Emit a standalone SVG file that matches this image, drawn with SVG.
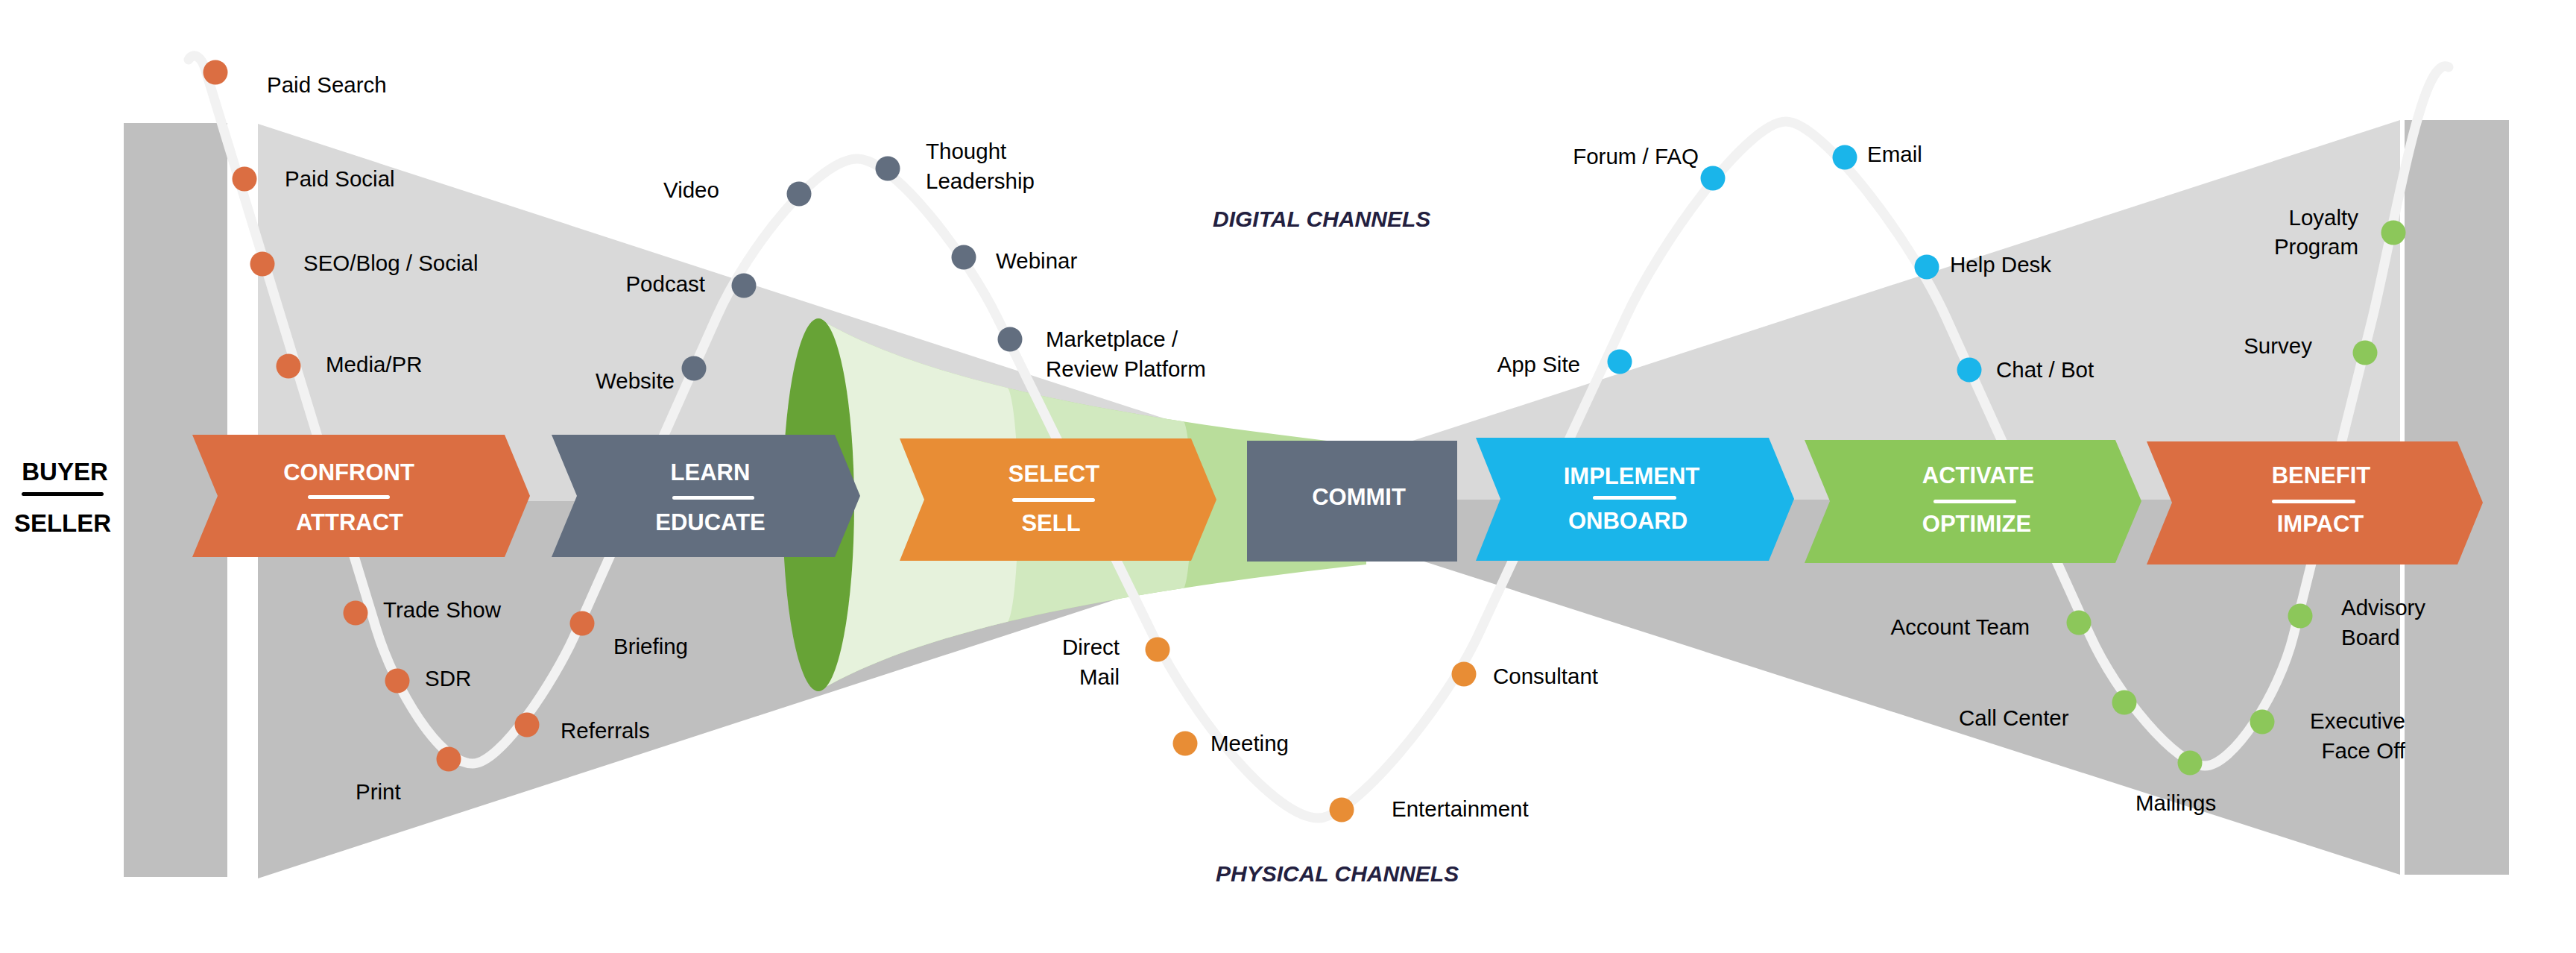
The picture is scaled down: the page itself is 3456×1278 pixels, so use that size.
<svg xmlns="http://www.w3.org/2000/svg" width="3456" height="1278" viewBox="0 0 3456 1278">
<defs>
<style>
.lbl{font-family:"Liberation Sans",Arial,sans-serif;font-size:29.5px;fill:#000}
.end{text-anchor:end}
.ph{font-family:"Liberation Sans",Arial,sans-serif;font-weight:bold;font-size:31px;fill:#fff;text-anchor:middle}
.bs{font-family:"Liberation Sans",Arial,sans-serif;font-weight:bold;font-size:33px;fill:#000;text-anchor:middle}
.ch{font-family:"Liberation Sans",Arial,sans-serif;font-weight:bold;font-style:italic;font-size:30px;fill:#23203f}
.bar{fill:#fff}
.light{fill:#d9d9d9}
.dark{fill:#bfbfbf}
.c1{fill:#db6e42}.c2{fill:#626e7f}.c3{fill:#e88d35}.c4{fill:#1ab5ea}.c5{fill:#8cc75a}
.dot{stroke:none}
.curve{fill:none;stroke:#f2f2f2;stroke-width:13;stroke-linecap:round;stroke-linejoin:round}
</style>
<clipPath id="coneClip"><path d="M1098,427 C1240,512 1500,560 1833,597 L1833,757 C1500,794 1240,842 1098,927 Z"/></clipPath>
</defs>
<rect width="3456" height="1278" fill="#fff"/>

<g id="background">
<rect class="dark" x="166" y="165" width="139" height="1011"/>
<rect class="dark" x="3226" y="161" width="140" height="1012"/>
<polygon class="light" points="346,166 1903,672 346,672"/>
<polygon class="dark" points="346,672 1903,672 346,1178"/>
<polygon class="light" points="3220,161 3220,670 1652,670"/>
<polygon class="dark" points="3220,670 3220,1173 1652,670"/>
</g>

<g id="funnel">
<g clip-path="url(#coneClip)">
<rect x="1090" y="400" width="760" height="560" fill="#b9dd9b"/>
<path d="M1000,380 L1586,380 L1586,563 A12,114 0 0 1 1586,791 L1586,980 L1000,980 Z" fill="#d1e9bf"/>
<path d="M1000,380 L1349,380 L1349,517 A17,160 0 0 1 1349,837 L1349,980 L1000,980 Z" fill="#e6f2dc"/>
</g>
<ellipse cx="1098" cy="677" rx="48" ry="250" fill="#67a336"/>
</g>

<g id="connectors">
<path class="curve" d="M253,80 C259,70 270,74 276,95 L505,844 C530,925 590,1024 634,1024 C672,1024 744,912 771,852 L961,426 C1006,326 1100,213 1150,213 C1200,213 1299,346 1338,426 L1547,852 C1601,962 1710,1097 1769,1097 C1815,1097 1936,952 1983,852 L2181,426 C2227,326 2345,163 2396,163 C2445,163 2566,326 2611,426 L2804,852 C2840,932 2920,1027 2958,1027 C2995,1027 3057,932 3077,852 L3183,426 C3206,330 3235,160 3262,108 C3270,92 3278,86 3285,90"/>
</g>

<g id="buyer-seller">
<text class="bs" x="87" y="644">BUYER</text>
<rect x="29" y="660" width="110" height="5" rx="2.5" fill="#000"/>
<text class="bs" x="84" y="713">SELLER</text>
</g>

<g id="confront">
<polygon class="c1" points="258,583 677,583 711,665 677,747 258,747 292,665"/>
<text class="ph" x="468" y="644">CONFRONT</text>
<rect class="bar" x="413" y="664" width="110" height="5" rx="2.5"/>
<text class="ph" x="469" y="711">ATTRACT</text>
</g>
<g id="learn">
<polygon class="c2" points="740,583 1120,583 1154,665 1120,747 740,747 774,665"/>
<text class="ph" x="953" y="644">LEARN</text>
<rect class="bar" x="902" y="665" width="110" height="5" rx="2.5"/>
<text class="ph" x="953" y="711">EDUCATE</text>
</g>
<g id="select">
<polygon class="c3" points="1207,588 1598,588 1632,670 1598,752 1207,752 1240,670"/>
<text class="ph" x="1414" y="646">SELECT</text>
<rect class="bar" x="1358" y="668" width="111" height="5" rx="2.5"/>
<text class="ph" x="1410" y="712">SELL</text>
</g>
<g id="commit">
<rect class="c2" x="1673" y="591" width="282" height="162"/>
<text class="ph" x="1823" y="677">COMMIT</text>
</g>
<g id="implement">
<polygon class="c4" points="1980,587 2373,587 2407,669 2373,752 1980,752 2013,669"/>
<text class="ph" x="2189" y="649">IMPLEMENT</text>
<rect class="bar" x="2137" y="665" width="112" height="5" rx="2.5"/>
<text class="ph" x="2184" y="709">ONBOARD</text>
</g>
<g id="activate">
<polygon class="c5" points="2421,590 2838,590 2873,672 2838,755 2421,755 2455,672"/>
<text class="ph" x="2654" y="648">ACTIVATE</text>
<rect class="bar" x="2594" y="670" width="111" height="5" rx="2.5"/>
<text class="ph" x="2652" y="713">OPTIMIZE</text>
</g>
<g id="benefit">
<polygon class="c1" points="2880,592 3297,592 3331,674 3297,757 2880,757 2914,674"/>
<text class="ph" x="3114" y="648">BENEFIT</text>
<rect class="bar" x="3048" y="670" width="112" height="5" rx="2.5"/>
<text class="ph" x="3113" y="713">IMPACT</text>
</g>

<g id="channel-titles">
<text class="ch" x="1627" y="304">DIGITAL CHANNELS</text>
<text class="ch" x="1631" y="1182">PHYSICAL CHANNELS</text>
</g>

<g id="ch-paid-search"><circle class="dot c1" cx="289" cy="97" r="16.5"/><text class="lbl" x="358" y="124">Paid Search</text></g>
<g id="ch-paid-social"><circle class="dot c1" cx="328" cy="240" r="16.5"/><text class="lbl" x="382" y="250">Paid Social</text></g>
<g id="ch-seo"><circle class="dot c1" cx="352" cy="354" r="16.5"/><text class="lbl" x="407" y="363">SEO/Blog / Social</text></g>
<g id="ch-media"><circle class="dot c1" cx="387" cy="491" r="16.5"/><text class="lbl" x="437" y="499">Media/PR</text></g>
<g id="ch-trade-show"><circle class="dot c1" cx="477" cy="822" r="16.5"/><text class="lbl" x="514" y="828">Trade Show</text></g>
<g id="ch-sdr"><circle class="dot c1" cx="533" cy="913" r="16.5"/><text class="lbl" x="570" y="920">SDR</text></g>
<g id="ch-print"><circle class="dot c1" cx="602" cy="1018" r="16.5"/><text class="lbl" x="477" y="1072">Print</text></g>
<g id="ch-referrals"><circle class="dot c1" cx="707" cy="972" r="16.5"/><text class="lbl" x="752" y="990">Referrals</text></g>
<g id="ch-briefing"><circle class="dot c1" cx="781" cy="836" r="16.5"/><text class="lbl" x="823" y="877">Briefing</text></g>

<g id="ch-website"><circle class="dot c2" cx="931" cy="494" r="16.5"/><text class="lbl end" x="905" y="521">Website</text></g>
<g id="ch-podcast"><circle class="dot c2" cx="998" cy="383" r="16.5"/><text class="lbl end" x="946" y="391">Podcast</text></g>
<g id="ch-video"><circle class="dot c2" cx="1072" cy="260" r="16.5"/><text class="lbl" x="890" y="265">Video</text></g>
<g id="ch-thought"><circle class="dot c2" cx="1191" cy="226" r="16.5"/><text class="lbl" x="1242" y="213">Thought</text><text class="lbl" x="1242" y="253">Leadership</text></g>
<g id="ch-webinar"><circle class="dot c2" cx="1293" cy="345" r="16.5"/><text class="lbl" x="1336" y="360">Webinar</text></g>
<g id="ch-marketplace"><circle class="dot c2" cx="1355" cy="455" r="16.5"/><text class="lbl" x="1403" y="465">Marketplace /</text><text class="lbl" x="1403" y="505">Review Platform</text></g>

<g id="ch-direct-mail"><circle class="dot c3" cx="1553" cy="871" r="16.5"/><text class="lbl end" x="1502" y="878">Direct</text><text class="lbl end" x="1502" y="918">Mail</text></g>
<g id="ch-meeting"><circle class="dot c3" cx="1590" cy="997" r="16.5"/><text class="lbl" x="1624" y="1007">Meeting</text></g>
<g id="ch-entertainment"><circle class="dot c3" cx="1800" cy="1086" r="16.5"/><text class="lbl" x="1867" y="1095">Entertainment</text></g>
<g id="ch-consultant"><circle class="dot c3" cx="1964" cy="904" r="16.5"/><text class="lbl" x="2003" y="917">Consultant</text></g>

<g id="ch-app-site"><circle class="dot c4" cx="2173" cy="485" r="16.5"/><text class="lbl end" x="2120" y="499">App Site</text></g>
<g id="ch-forum"><circle class="dot c4" cx="2298" cy="239" r="16.5"/><text class="lbl end" x="2279" y="220">Forum / FAQ</text></g>
<g id="ch-email"><circle class="dot c4" cx="2475" cy="211" r="16.5"/><text class="lbl" x="2505" y="217">Email</text></g>
<g id="ch-help-desk"><circle class="dot c4" cx="2585" cy="358" r="16.5"/><text class="lbl" x="2616" y="365">Help Desk</text></g>
<g id="ch-chat"><circle class="dot c4" cx="2642" cy="496" r="16.5"/><text class="lbl" x="2678" y="506">Chat / Bot</text></g>

<g id="ch-account-team"><circle class="dot c5" cx="2789" cy="835" r="16.5"/><text class="lbl end" x="2723" y="851">Account Team</text></g>
<g id="ch-call-center"><circle class="dot c5" cx="2850" cy="942" r="16.5"/><text class="lbl" x="2628" y="973">Call Center</text></g>
<g id="ch-mailings"><circle class="dot c5" cx="2938" cy="1023" r="16.5"/><text class="lbl" x="2865" y="1087">Mailings</text></g>
<g id="ch-executive"><circle class="dot c5" cx="3035" cy="968" r="16.5"/><text class="lbl end" x="3227" y="977">Executive</text><text class="lbl end" x="3227" y="1017">Face Off</text></g>
<g id="ch-advisory"><circle class="dot c5" cx="3086" cy="826" r="16.5"/><text class="lbl" x="3141" y="825">Advisory</text><text class="lbl" x="3141" y="865">Board</text></g>
<g id="ch-survey"><circle class="dot c5" cx="3173" cy="473" r="16.5"/><text class="lbl end" x="3102" y="474">Survey</text></g>
<g id="ch-loyalty"><circle class="dot c5" cx="3211" cy="312" r="16.5"/><text class="lbl end" x="3164" y="302">Loyalty</text><text class="lbl end" x="3164" y="341">Program</text></g>
</svg>
